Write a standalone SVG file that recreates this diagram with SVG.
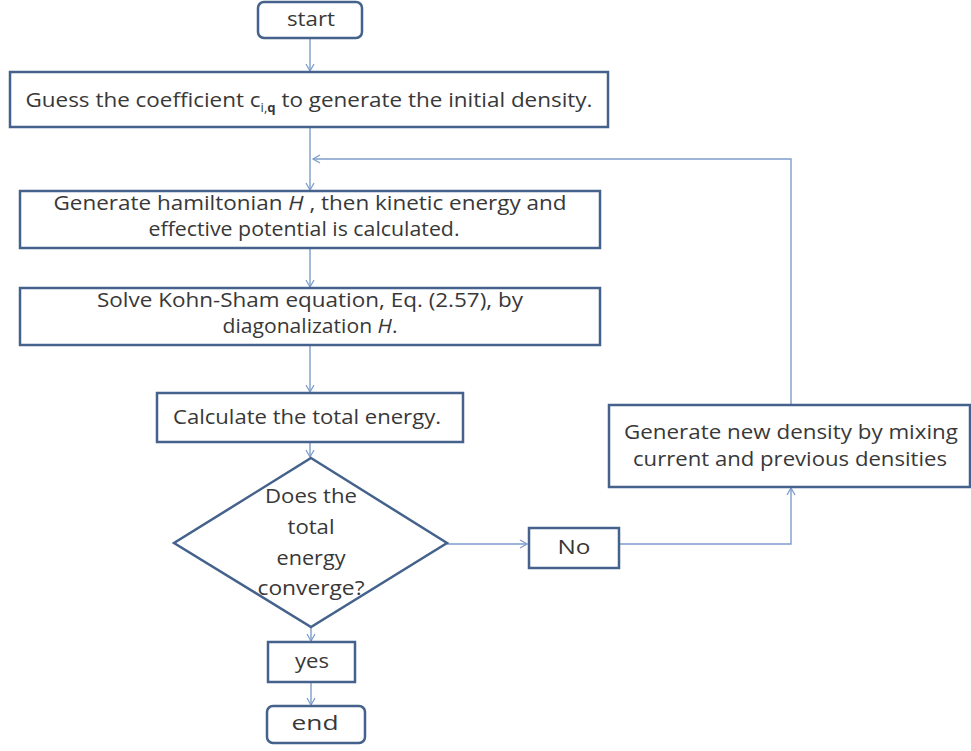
<svg xmlns="http://www.w3.org/2000/svg" width="971" height="751" viewBox="0 0 971 751">
<defs>
<style>
.box{fill:#ffffff;stroke:#44628c;stroke-width:2.5}
.con{fill:none;stroke:#7d9dcb;stroke-width:1.4}
.t{font-family:"Open Sans","Liberation Sans",sans-serif;font-size:20.5px;fill:#383838;text-anchor:middle}
.i{font-style:italic}
</style>
<marker id="arr" markerWidth="10" markerHeight="10" refX="8" refY="5" orient="auto" markerUnits="userSpaceOnUse">
<path d="M1,1 L8,5 L1,9" fill="none" stroke="#7d9dcb" stroke-width="1.3"/>
</marker>
</defs>
<rect width="971" height="751" fill="#ffffff"/>
<g id="connectors">
<line class="con" x1="310" y1="38" x2="310" y2="71" marker-end="url(#arr)"/>
<line class="con" x1="310" y1="127" x2="310" y2="190" marker-end="url(#arr)"/>
<line class="con" x1="310" y1="248" x2="310" y2="287" marker-end="url(#arr)"/>
<line class="con" x1="310" y1="345" x2="310" y2="392" marker-end="url(#arr)"/>
<line class="con" x1="310" y1="442" x2="310" y2="457" marker-end="url(#arr)"/>
<line class="con" x1="447" y1="544" x2="527" y2="544" marker-end="url(#arr)"/>
<polyline class="con" points="619,544 791,544 791,488" marker-end="url(#arr)"/>
<polyline class="con" points="791,405 791,159 313,159" marker-end="url(#arr)"/>
<line class="con" x1="311" y1="627" x2="311" y2="641" marker-end="url(#arr)"/>
<line class="con" x1="311" y1="682" x2="311" y2="705" marker-end="url(#arr)"/>
</g>
<g id="start">
<rect class="box" x="258" y="2" width="104" height="36" rx="6"/>
<text class="t" x="311" y="26" textLength="48" lengthAdjust="spacingAndGlyphs">start</text>
</g>
<g id="guess">
<rect class="box" x="10" y="72" width="598" height="55"/>
<text class="t" x="309" y="107" textLength="567" lengthAdjust="spacingAndGlyphs">Guess the coefficient c<tspan font-size="12" dy="5">i,</tspan><tspan font-size="12" font-weight="bold">q</tspan><tspan dy="-5"> to generate the initial density.</tspan></text>
</g>
<g id="hamiltonian">
<rect class="box" x="20" y="191" width="580" height="57"/>
<text class="t" x="310" y="210" textLength="513" lengthAdjust="spacingAndGlyphs">Generate hamiltonian <tspan class="i">H</tspan> , then kinetic energy and</text>
<text class="t" x="304" y="236" textLength="311" lengthAdjust="spacingAndGlyphs">effective potential is calculated.</text>
</g>
<g id="kohnsham">
<rect class="box" x="20" y="288" width="580" height="57"/>
<text class="t" x="310" y="307" textLength="426" lengthAdjust="spacingAndGlyphs">Solve Kohn-Sham equation, Eq. (2.57), by</text>
<text class="t" x="310" y="333" textLength="175" lengthAdjust="spacingAndGlyphs">diagonalization <tspan class="i">H</tspan>.</text>
</g>
<g id="energy">
<rect class="box" x="157" y="393" width="306" height="49"/>
<text class="t" x="307" y="424" textLength="268" lengthAdjust="spacingAndGlyphs">Calculate the total energy.</text>
</g>
<g id="decision">
<polygon class="box" points="311,458 447,543 311,627 174,543"/>
<text class="t" x="311" y="503" textLength="92" lengthAdjust="spacingAndGlyphs">Does the</text>
<text class="t" x="311" y="534" textLength="47" lengthAdjust="spacingAndGlyphs">total</text>
<text class="t" x="311" y="565" textLength="69" lengthAdjust="spacingAndGlyphs">energy</text>
<text class="t" x="311" y="595" textLength="107" lengthAdjust="spacingAndGlyphs">converge?</text>
</g>
<g id="no">
<rect class="box" x="529" y="528" width="90" height="40"/>
<text class="t" x="574" y="554" textLength="33" lengthAdjust="spacingAndGlyphs">No</text>
</g>
<g id="mix">
<rect class="box" x="609" y="405" width="361" height="82"/>
<text class="t" x="791" y="439" textLength="334" lengthAdjust="spacingAndGlyphs">Generate new density by mixing</text>
<text class="t" x="790" y="466" textLength="314" lengthAdjust="spacingAndGlyphs">current and previous densities</text>
</g>
<g id="yes">
<rect class="box" x="268" y="642" width="87" height="40"/>
<text class="t" x="312" y="668" textLength="34" lengthAdjust="spacingAndGlyphs">yes</text>
</g>
<g id="end">
<rect class="box" x="267" y="706" width="98" height="37" rx="6"/>
<text class="t" x="315" y="730" textLength="47" lengthAdjust="spacingAndGlyphs">end</text>
</g>
</svg>
